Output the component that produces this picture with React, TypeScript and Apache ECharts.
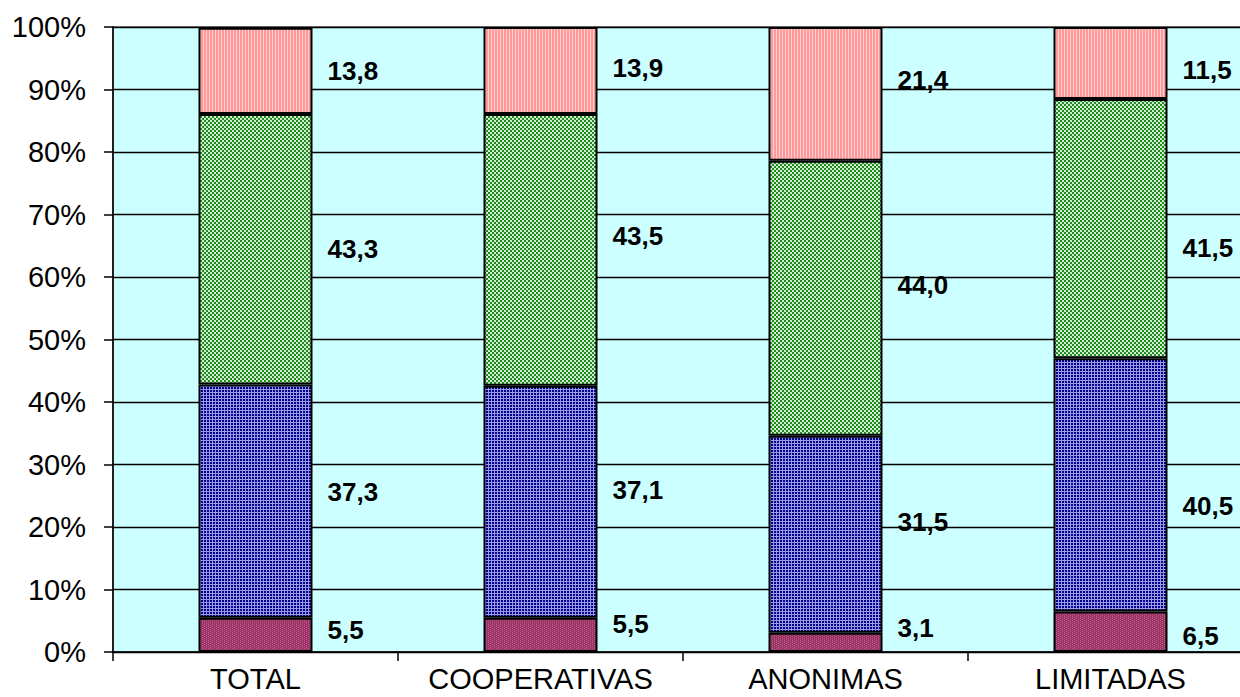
import React, { useEffect, useRef } from "react";
import * as echarts from "echarts";

const categories = ["TOTAL", "COOPERATIVAS", "ANONIMAS", "LIMITADAS"];
const seriesA = [5.5, 5.5, 3.1, 6.5];
const seriesB = [37.3, 37.1, 31.5, 40.5];
const seriesC = [43.3, 43.5, 44.0, 41.5];
const seriesD = [13.8, 13.9, 21.4, 11.5];
const yTicks = [0, 10, 20, 30, 40, 50, 60, 70, 80, 90, 100];

// manual label vertical offsets (px) per series per category
const offA = [-5, -11, -14, 4];
const offB = [-9, -12, -12, 21];
const offC = [0, -14, -13, 19];
const offD = [0, -2, -14, 7];

function makePattern(w: number, h: number, draw: (ctx: CanvasRenderingContext2D) => void) {
  const c = document.createElement("canvas");
  c.width = w;
  c.height = h;
  const ctx = c.getContext("2d")!;
  draw(ctx);
  return { image: c, repeat: "repeat" } as any;
}

export default function App() {
  const ref = useRef<HTMLDivElement>(null);
  useEffect(() => {
    if (!ref.current) return;
    const chart = echarts.init(ref.current, undefined, { renderer: "svg" });

    const pinkPat = makePattern(3, 1, (ctx) => {
      ctx.fillStyle = "#FF9999";
      ctx.fillRect(0, 0, 3, 1);
      ctx.fillStyle = "#FFD0D0";
      ctx.fillRect(2, 0, 1, 1);
    });
    const greenPat = makePattern(4, 4, (ctx) => {
      ctx.fillStyle = "#D0ECD0";
      ctx.fillRect(0, 0, 4, 4);
      ctx.fillStyle = "#228B22";
      ctx.fillRect(0, 0, 2, 2);
      ctx.fillRect(2, 2, 2, 2);
    });
    const bluePat = makePattern(3, 3, (ctx) => {
      ctx.fillStyle = "#000088";
      ctx.fillRect(0, 0, 3, 3);
      ctx.fillStyle = "#9A9AE6";
      ctx.fillRect(2, 0, 1, 3);
      ctx.fillRect(0, 2, 3, 1);
    });
    const purplePat = makePattern(4, 2, (ctx) => {
      ctx.fillStyle = "#993366";
      ctx.fillRect(0, 0, 4, 2);
      ctx.fillStyle = "#C0608A";
      ctx.fillRect(0, 0, 1, 1);
      ctx.fillRect(2, 1, 1, 1);
    });

    const fmt = (v: number) => v.toFixed(1).replace(".", ",");
    const mk = (name: string, vals: number[], offs: number[], pat: any) => ({
      name,
      type: "bar",
      stack: "s",
      barWidth: "40%",
      data: vals.map((v, i) => ({
        value: v,
        label: { offset: [0, offs[i]] },
      })),
      itemStyle: { color: pat, borderColor: "#000", borderWidth: 2 },
      label: {
        show: true,
        position: "right",
        distance: 15,
        formatter: (p: any) => fmt(p.value),
        fontFamily: "Liberation Sans, Arial, sans-serif",
        fontWeight: "bold",
        fontSize: 26,
        color: "#000",
      },
    });

    chart.setOption({
      animation: false,
      grid: {
        left: 113,
        top: 27,
        right: 0,
        bottom: 45,
        show: true,
        backgroundColor: "#CCFFFF",
        borderColor: "#808080",
        borderWidth: 2,
      },
      xAxis: {
        type: "category",
        data: categories,
        axisLine: { lineStyle: { color: "#000", width: 1.5 } },
        axisTick: { show: true, interval: 0, length: 9, lineStyle: { color: "#000", width: 1.5 } },
        axisLabel: {
          interval: 0,
          hideOverlap: false,
          fontFamily: "Liberation Sans, Arial, sans-serif",
          fontSize: 29,
          color: "#000",
          margin: 12,
        },
      },
      yAxis: {
        type: "value",
        min: 0,
        max: 100,
        interval: 10,
        axisLine: { show: true, lineStyle: { color: "#000", width: 1.5 } },
        axisTick: { show: true, length: 9, lineStyle: { color: "#000", width: 1.5 } },
        splitLine: { lineStyle: { color: "#000", width: 1.3 } },
        axisLabel: {
          fontFamily: "Liberation Sans, Arial, sans-serif",
          fontSize: 29,
          color: "#000",
          margin: 27,
          formatter: (v: number) => (yTicks.includes(v) ? v + "%" : ""),
        },
      },
      series: [
        mk("A", seriesA, offA, purplePat),
        mk("B", seriesB, offB, bluePat),
        mk("C", seriesC, offC, greenPat),
        mk("D", seriesD, offD, pinkPat),
      ],
    });
    return () => chart.dispose();
  }, []);
  return (
    <div
      style={{
        position: "absolute",
        left: 0,
        top: 0,
        width: 1240,
        height: 697,
        overflow: "hidden",
        background: "#fff",
      }}
    >
      <div ref={ref} style={{ width: 1253, height: 697 }} />
    </div>
  );
}
